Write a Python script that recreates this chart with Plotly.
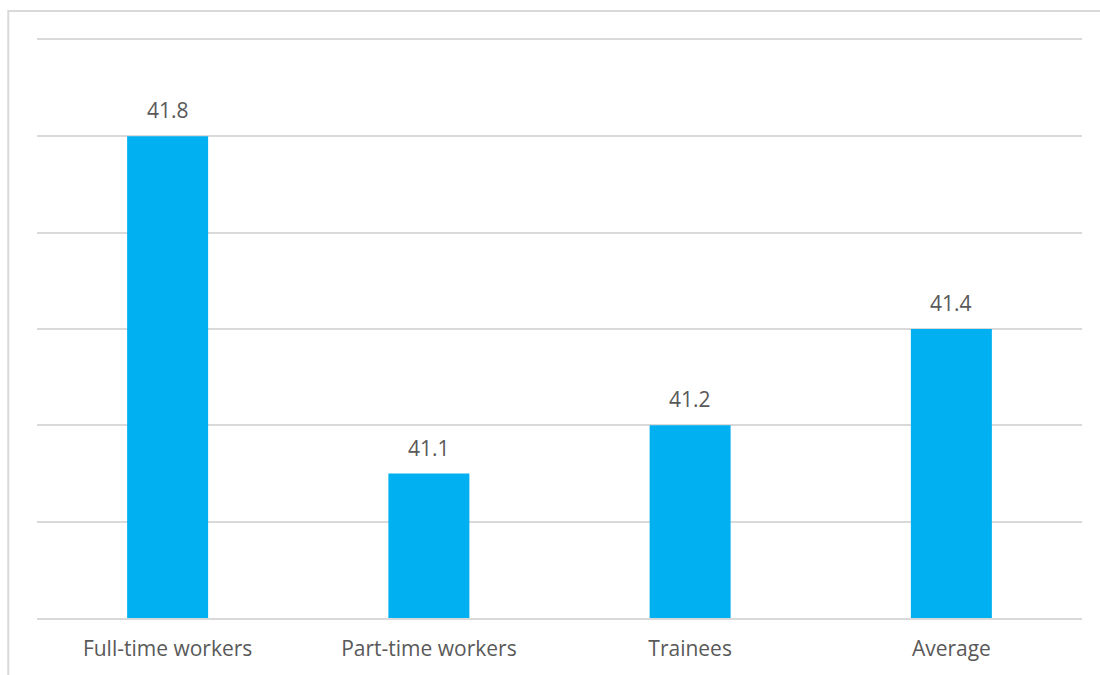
import plotly.graph_objects as go

categories = ["Full-time workers", "Part-time workers", "Trainees", "Average"]
values = [41.8, 41.1, 41.2, 41.4]

BAR_COLOR = "#00B0F0"
GRID_COLOR = "#D9D9D9"
TEXT_COLOR = "#595959"
FONT = "Open Sans"
FONT_SIZE = 21

fig = go.Figure(
    go.Bar(
        x=categories,
        y=values,
        marker=dict(color=BAR_COLOR, line=dict(width=0)),
        width=0.31,
        hoverinfo="skip",
    )
)

# value labels above each bar
for c, v in zip(categories, values):
    fig.add_annotation(
        x=c, y=v, text=f"{v:.1f}", showarrow=False,
        yanchor="bottom", yshift=10,
        font=dict(family=FONT, size=FONT_SIZE, color=TEXT_COLOR),
    )

# light outer frame around the chart
fig.add_shape(
    type="rect", xref="paper", yref="paper",
    x0=-0.0275, x1=1.2, y0=-0.3, y1=1.050,
    line=dict(color=GRID_COLOR, width=2), fillcolor="rgba(0,0,0,0)",
    layer="below",
)

fig.update_layout(
    width=1100, height=675,
    margin=dict(l=37, r=18, t=40, b=57),
    paper_bgcolor="white", plot_bgcolor="white",
    showlegend=False,
    font=dict(family=FONT, size=FONT_SIZE, color=TEXT_COLOR),
)
fig.update_xaxes(
    showline=True, mirror=True, linecolor=GRID_COLOR, linewidth=2,
    showgrid=False, ticks="outside", ticklen=11, tickcolor="rgba(0,0,0,0)",
    tickfont=dict(family=FONT, size=FONT_SIZE, color=TEXT_COLOR),
)
fig.update_yaxes(
    range=[40.8, 42.0], dtick=0.2, tick0=40.8,
    showgrid=True, gridcolor=GRID_COLOR, gridwidth=2,
    showticklabels=False, zeroline=False, showline=False,
)

fig.write_html("out.html")
